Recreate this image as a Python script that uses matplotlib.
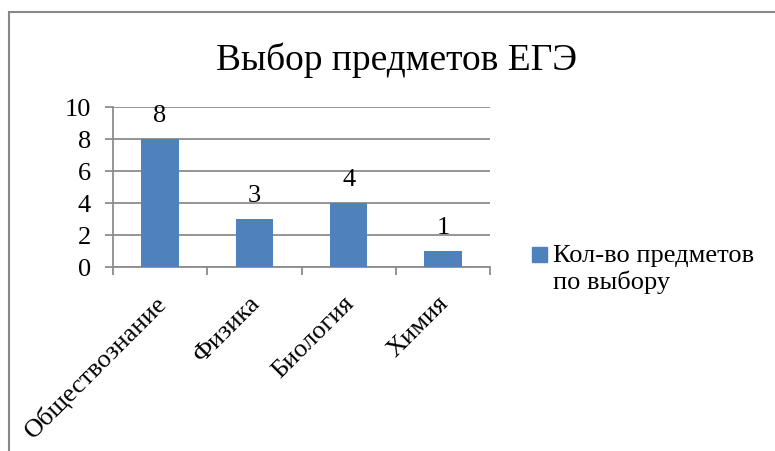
import matplotlib.pyplot as plt
from matplotlib.patches import Rectangle
from matplotlib.transforms import ScaledTranslation

plt.rcParams['font.family'] = ['Liberation Serif', 'DejaVu Serif']

# Data
categories = ['Обществознание', 'Физика', 'Биология', 'Химия']
values = [8, 3, 4, 1]
series_name = 'Кол-во предметов\nпо выбору'
title = 'Выбор предметов ЕГЭ'
yticks = [0, 2, 4, 6, 8, 10]

bar_color = '#4F81BD'
grid_color = '#8C8C8C'
fs = 19

fig = plt.figure(figsize=(7.75, 4.51), dpi=100)
ax = fig.add_axes([113/775, 1 - 267/451, (490 - 113)/775, 160/451])

x = list(range(len(categories)))
ax.bar(x, values, width=0.4, color=bar_color, zorder=3)
for xi, v in zip(x, values):
    ax.text(xi, v + 1.06, str(v), ha='center', va='baseline', fontsize=fs)

ax.set_xlim(-0.5, len(categories) - 0.5)
ax.set_ylim(0, 10)
ax.set_yticks(yticks)
ax.set_yticklabels([str(t) for t in yticks], fontsize=fs)
ax.yaxis.grid(True, color=grid_color, linewidth=1.3, zorder=0)
ax.tick_params(axis='y', length=6, width=1.3, color=grid_color, pad=10)

# category boundary ticks, labels between
ax.set_xticks([i - 0.5 for i in range(len(categories) + 1)])
ax.set_xticklabels([])
ax.set_xticks(x, minor=True)
ax.set_xticklabels(categories, minor=True, rotation=45, ha='right',
                   rotation_mode='anchor', fontsize=fs)
ax.tick_params(axis='x', which='major', length=6, width=1.3, color=grid_color)
ax.tick_params(axis='x', which='minor', length=0, pad=18)
shift = ScaledTranslation(-4/72, 0, fig.dpi_scale_trans)
for lbl in ax.get_xticklabels(minor=True):
    lbl.set_transform(lbl.get_transform() + shift)

for s in ['top', 'right']:
    ax.spines[s].set_visible(False)
for s in ['left', 'bottom']:
    ax.spines[s].set_color(grid_color)
    ax.spines[s].set_linewidth(1.3)

fig.text(397/775, 1 - 60/451, title, ha='center', va='center', fontsize=27)

# legend
fig.patches.append(Rectangle((532/775, 1 - 262/451), 15/775, 15/451,
                             transform=fig.transFigure, color=bar_color))
fig.text(553/775, 1 - 245/451, series_name, ha='left', va='top',
         fontsize=fs, linespacing=1.2)

# chart frame (cut off at right and bottom)
fig.patches.append(Rectangle((9/775, -0.1), 1.2, 1.1 - 12/451,
                             transform=fig.transFigure, fill=False,
                             edgecolor='#888888', linewidth=1.5))

fig.savefig('out.png', dpi=100)
